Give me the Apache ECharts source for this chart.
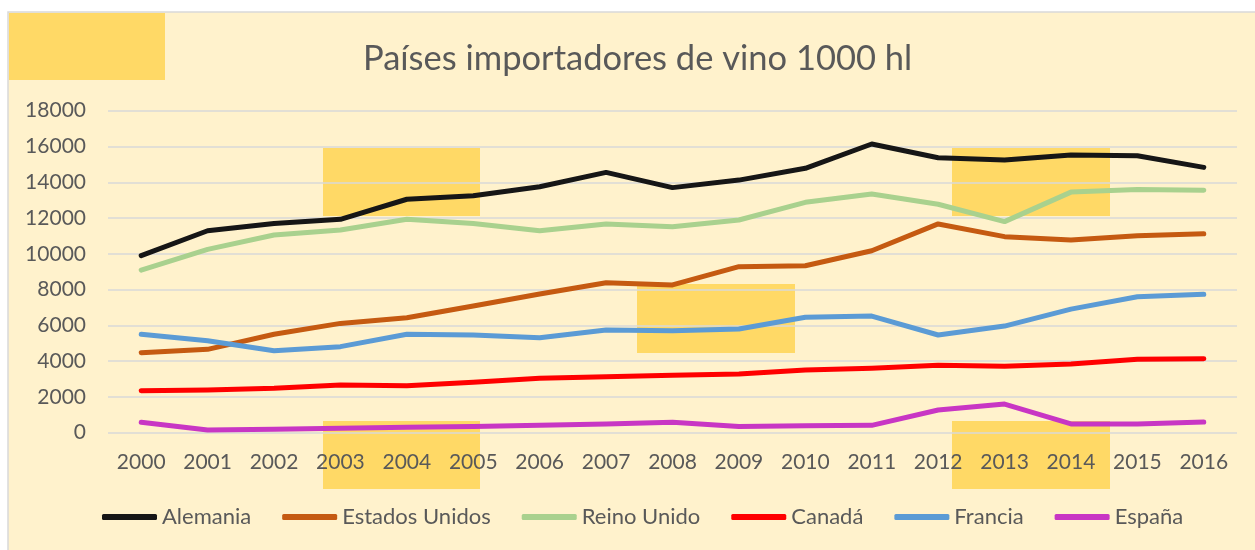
<!DOCTYPE html>
<html>
<head>
<meta charset="utf-8">
<script src="https://cdn.jsdelivr.net/npm/echarts@6/dist/echarts.min.js"></script>
<style>
  html, body { margin: 0; padding: 0; background: #fff; }
  #main { width: 1255px; height: 550px; }
</style>
</head>
<body>
<div id="main"></div>
<script>
// años y valores (miles de hl)
var years = ['2000', '2001', '2002', '2003', '2004', '2005', '2006', '2007', '2008',
  '2009', '2010', '2011', '2012', '2013', '2014', '2015', '2016'];
var alemania = [9900, 11290, 11700, 11930, 13050, 13250, 13750, 14550, 13700,
  14120, 14780, 16140, 15370, 15240, 15520, 15480, 14830];
var estadosUnidos = [4470, 4660, 5500, 6110, 6430, 7080, 7750, 8380, 8260,
  9280, 9330, 10170, 11670, 10960, 10770, 11010, 11120];
var reinoUnido = [9090, 10250, 11050, 11330, 11930, 11700, 11290, 11670, 11510,
  11890, 12880, 13340, 12770, 11800, 13450, 13600, 13550];
var canada = [2350, 2390, 2480, 2670, 2630, 2820, 3040, 3130, 3210,
  3280, 3500, 3600, 3770, 3710, 3840, 4100, 4140];
var francia = [5500, 5140, 4580, 4810, 5500, 5460, 5310, 5740, 5700,
  5800, 6450, 6520, 5460, 5960, 6910, 7600, 7740];
var espana = [580, 150, 190, 250, 300, 340, 410, 490, 580,
  340, 390, 410, 1270, 1600, 490, 490, 600];

var seriesNames = ['Alemania', 'Estados Unidos', 'Reino Unido', 'Canadá', 'Francia', 'España'];
var seriesData = [alemania, estadosUnidos, reinoUnido, canada, francia, espana];
var seriesColors = ['#161616', '#C55A11', '#A9D18E', '#FF0000', '#5B9BD5', '#C836C4'];

var font = 'Lato';
var textColor = '#595959';

// cuadros decorativos amarillos
var boxes = [
  [9, 13, 156, 67],
  [323, 148, 157, 68],
  [952, 148, 158, 68],
  [637, 284, 158, 69],
  [323, 421, 157, 68],
  [952, 421, 158, 68]
];

var graphics = [{
  type: 'rect',
  z: -20,
  shape: { x: 8, y: 12, width: 1260, height: 560 },
  style: { fill: '#FFF2CC', stroke: '#D9D9D9', lineWidth: 1.5 }
}];
boxes.forEach(function (b) {
  graphics.push({
    type: 'rect',
    z: -10,
    shape: { x: b[0], y: b[1], width: b[2], height: b[3] },
    style: { fill: '#FFD966' }
  });
});

var myChart = echarts.init(document.getElementById('main'));

var option = {
  backgroundColor: '#ffffff',
  animation: false,
  graphic: graphics,
  title: {
    text: 'Países importadores de vino 1000 hl',
    left: 358,
    top: 36,
    textStyle: { fontFamily: font, fontSize: 34.5, fontWeight: 'normal', color: textColor }
  },
  legend: {
    bottom: 17,
    left: 97,
    icon: 'roundRect',
    itemWidth: 55,
    itemHeight: 6,
    itemGap: 31,
    textStyle: { fontFamily: font, fontSize: 22, color: textColor },
    data: seriesNames
  },
  grid: { left: 108, right: 18, top: 110.7, bottom: 117.3 },
  xAxis: {
    type: 'category',
    data: years,
    boundaryGap: true,
    axisLine: { show: false },
    axisTick: { show: false },
    axisLabel: { fontFamily: font, fontSize: 21, color: textColor, margin: 19 }
  },
  yAxis: {
    type: 'value',
    min: 0,
    max: 18000,
    interval: 2000,
    axisLine: { show: false },
    axisTick: { show: false },
    axisLabel: {
      fontFamily: font, fontSize: 21, color: textColor, margin: 22,
      formatter: function (v) { return String(v); }
    },
    splitLine: { lineStyle: { color: '#D9D9D9', width: 1.5 } }
  },
  series: seriesNames.map(function (name, i) {
    return {
      name: name,
      type: 'line',
      data: seriesData[i],
      showSymbol: false,
      symbol: 'none',
      color: seriesColors[i],
      lineStyle: { width: 5, cap: 'round', join: 'round', color: seriesColors[i] }
    };
  })
};

myChart.setOption(option);
</script>
</body>
</html>
